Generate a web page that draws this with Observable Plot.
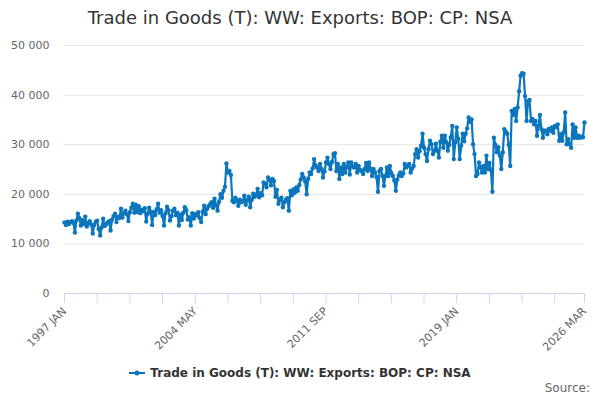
<!DOCTYPE html>
<html>
<head>
<meta charset="utf-8">
<script src="https://cdn.jsdelivr.net/npm/d3@7"></script>
<script src="https://cdn.jsdelivr.net/npm/@observablehq/plot@0.6"></script>
<style>
  html, body { margin: 0; padding: 0; background: #fff; }
  #wrap { position: relative; width: 600px; height: 400px; font-family: "DejaVu Sans", sans-serif; overflow: hidden; }
  #title { position: absolute; left: 0; top: 0; width: 600px; height: 36px; line-height: 36px; text-align: center; font-size: 18px; color: #333; }
  #chart { position: absolute; left: 0; top: 36px; }
  #legend { position: absolute; left: 0; top: 362px; width: 600px; height: 22px; display: flex; justify-content: center; align-items: center; font-size: 12px; font-weight: bold; color: #333; }
  #legend svg { margin-right: 5px; }
  #source { position: absolute; right: 10px; top: 381px; font-size: 12px; color: #666; }
</style>
</head>
<body>
<div id="wrap">
  <div id="title"></div>
  <div id="chart"></div>
  <div id="legend"></div>
  <div id="source"></div>
</div>
<script>
const chartTitle = "Trade in Goods (T): WW: Exports: BOP: CP: NSA";
const seriesName = "Trade in Goods (T): WW: Exports: BOP: CP: NSA";
const sourceText = "Source:";
const startYear = 1997;
const monthNames = ["JAN","FEB","MAR","APR","MAY","JUN","JUL","AUG","SEP","OCT","NOV","DEC"];
// monthly values, £ million, Jan 1997 – Mar 2026
const exportsValues = [
  14300, 13800, 14500, 14000, 14400, 14600, 14200, 12300, 14700, 16100, 15200, 13700, // 1997
  14800, 14000, 15500, 13500, 14200, 14600, 13900, 12100, 13800, 14500, 14700, 13000, // 1998
  11700, 13300, 15100, 13600, 13900, 14300, 14600, 12700, 14900, 15600, 16100, 14400, // 1999
  15500, 15200, 17100, 15300, 16200, 16700, 16000, 14600, 16400, 17300, 18100, 16300, // 2000
  17900, 16400, 17600, 16200, 16900, 16600, 17200, 14500, 16100, 17300, 16500, 13800, // 2001
  16400, 15800, 17000, 18100, 16300, 16800, 15600, 13700, 16200, 17500, 16800, 14700, // 2002
  15600, 16700, 17100, 15800, 16300, 13700, 15900, 14800, 16300, 17400, 16800, 14900, // 2003
  15400, 13700, 16200, 15100, 16000, 15700, 16400, 15200, 14400, 16500, 17700, 16000, // 2004
  17100, 17600, 18000, 18400, 17300, 19100, 17800, 16700, 18500, 20000, 19300, 20700, // 2005
  21500, 26200, 24400, 24700, 23900, 18700, 18400, 19300, 18800, 17700, 18900, 18400, // 2006
  18600, 19700, 17900, 18800, 19500, 17400, 18900, 20100, 19500, 19900, 21100, 19400, // 2007
  20200, 19800, 22400, 22100, 21400, 23400, 22900, 21800, 23100, 22700, 19500, 20900, // 2008
  18100, 18900, 19300, 17400, 18400, 18900, 19200, 16700, 20700, 19800, 21000, 20300, // 2009
  21400, 20700, 21900, 23000, 24100, 23400, 22600, 20000, 23100, 24400, 24100, 25200, // 2010
  27100, 25800, 25400, 24700, 26100, 25100, 23400, 24600, 26400, 27400, 26100, 25100, // 2011
  26500, 28100, 28300, 24700, 26100, 23100, 25400, 24100, 26100, 24400, 25500, 26400, // 2012
  24000, 26400, 25600, 25400, 26100, 24400, 25700, 24900, 24700, 24100, 25100, 26300, // 2013
  24700, 26400, 25100, 23700, 25100, 24400, 23500, 20500, 24700, 25100, 23700, 21700, // 2014
  23700, 25400, 23700, 25700, 24300, 23700, 22800, 20700, 23000, 23800, 24400, 23700, // 2015
  24200, 26100, 25400, 25700, 26100, 24400, 25200, 25700, 28100, 29100, 27400, 28700, // 2016
  29800, 32200, 29400, 28100, 26700, 29100, 30800, 30100, 28100, 28800, 30200, 28800, // 2017
  27400, 30600, 31800, 29400, 31800, 30500, 28800, 30000, 31500, 33800, 27100, 30500, // 2018
  33500, 31200, 27100, 29800, 32200, 30700, 32200, 33300, 35500, 34600, 35100, 30100, // 2019
  28100, 23700, 24100, 26400, 25400, 24400, 25700, 24400, 27800, 25100, 26300, 24900, // 2020
  20500, 31400, 30000, 28500, 29500, 27800, 25100, 28500, 33100, 32600, 32200, 30000, // 2021
  25700, 36800, 36000, 37200, 34800, 37500, 40800, 43900, 44400, 44300, 39800, 34800, // 2022
  38800, 39000, 34800, 35200, 34100, 34800, 31800, 33800, 36000, 33100, 31400, 32800, // 2023
  32800, 32100, 33200, 32800, 33500, 32400, 33800, 33500, 34100, 30800, 32100, 30800, // 2024
  32500, 36500, 30100, 31100, 30100, 29400, 34100, 31400, 33500, 31400, 31800, 31400, // 2025
  31600, 31500, 34500                                                                  // 2026
];
const yTicks = [0, 10000, 20000, 30000, 40000, 50000];
const xTickStep = 22;
const xLabelEvery = 4;
const lineColor = "#0c76bd";

const monthLabel = i => `${startYear + Math.floor(i / 12)} ${monthNames[i % 12]}`;
const data = exportsValues.map((v, i) => ({i, v, label: monthLabel(i)}));
const lastIdx = data.length - 1;
const xTicks = d3.range(0, lastIdx, xTickStep).concat([lastIdx]);
const labeled = new Set(xTicks.filter((t, k) => k % xLabelEvery === 0).concat([lastIdx]));

const locale = d3.formatLocale({decimal: ".", thousands: " ", grouping: [3], currency: ["", ""]});
const fmt = locale.format(",");

document.getElementById("title").textContent = chartTitle;
document.getElementById("source").textContent = sourceText;

const plot = Plot.plot({
  width: 600,
  height: 319,
  marginTop: 9,
  marginLeft: 64,
  marginRight: 16,
  marginBottom: 62,
  style: {fontFamily: "DejaVu Sans, sans-serif", fontSize: "11px", background: "transparent"},
  x: {type: "linear", domain: [0, lastIdx]},
  y: {domain: [0, 50000]},
  marks: [
    Plot.gridY(yTicks.filter(d => d > 0), {stroke: "#e6e6e6", strokeOpacity: 1}),
    Plot.ruleY([0], {stroke: "#ccd6eb"}),
    Plot.axisY(yTicks, {tickSize: 0, tickPadding: 15, tickFormat: fmt, fill: "#666", label: null}),
    Plot.axisX(xTicks, {tickSize: 10, stroke: "#ccd6eb", fill: "#666", tickRotate: -45,
      tickFormat: t => labeled.has(t) ? monthLabel(t) : "", label: null}),
    Plot.line(data, {x: "i", y: "v", stroke: lineColor, strokeWidth: 2.2}),
    Plot.dot(data, {x: "i", y: "v", r: 2.2, fill: lineColor, stroke: "none"})
  ]
});
document.getElementById("chart").appendChild(plot);

// legend
const leg = document.getElementById("legend");
const sym = d3.create("svg").attr("width", 16).attr("height", 12);
sym.append("line").attr("x1", 0).attr("x2", 16).attr("y1", 6).attr("y2", 6).attr("stroke", lineColor).attr("stroke-width", 2);
sym.append("circle").attr("cx", 8).attr("cy", 6).attr("r", 2.5).attr("fill", lineColor);
leg.appendChild(sym.node());
const span = document.createElement("span");
span.textContent = seriesName;
leg.appendChild(span);
</script>
</body>
</html>
